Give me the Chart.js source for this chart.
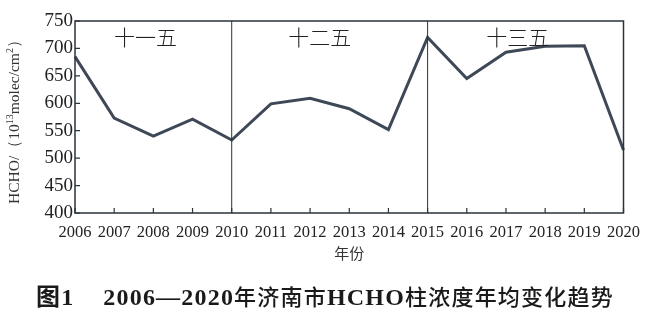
<!DOCTYPE html>
<html>
<head>
<meta charset="utf-8">
<script src="https://cdn.jsdelivr.net/npm/chart.js@4.4.1/dist/chart.umd.min.js"></script>
<style>
  html, body { margin: 0; padding: 0; background: #fff; }
  #wrap { position: relative; width: 650px; height: 310px; }
  #caption {
    position: absolute; left: 0; top: 277px; width: 650px; text-align: center;
    font-family: "Liberation Serif", "Noto Sans CJK SC", serif; font-weight: bold;
    font-size: 24px; letter-spacing: 1.2px; color: #1a1a1a; white-space: nowrap;
  }
  #caption .cn { font-family: "Noto Sans CJK SC", sans-serif; font-weight: 500; font-size: 22px; }
</style>
</head>
<body>
<div id="wrap">
  <canvas id="grafico" width="650" height="310"></canvas>
  <div id="caption">图1&nbsp;&nbsp;&nbsp;&nbsp;2006—2020<span class="cn">年济南市</span>HCHO<span class="cn">柱浓度年均变化趋势</span></div>
</div>
<script>
const anios = ['2006', '2007', '2008', '2009', '2010', '2011', '2012', '2013', '2014', '2015', '2016', '2017', '2018', '2019', '2020'];
const valoresHCHO = [685, 573, 540, 571, 533, 599, 609, 590, 552, 720, 645, 693, 704, 705, 515];
const periodos = ['十一五', '十二五', '十三五'];
const divisiones = ['2010', '2015'];
const ticksY = [400, 450, 500, 550, 600, 650, 700, 750];

const colorLinea = '#3e4856';
const colorEje = '#2a323c';

// marcas interiores, separadores y textos extra
const decoracion = {
    id: 'decoracion',
    afterDraw(chart) {
        const { ctx, chartArea: a, scales: { x, y } } = chart;
        ctx.save();
        ctx.strokeStyle = colorEje;
        ctx.lineWidth = 1.5;
        ctx.strokeRect(a.left, a.top, a.right - a.left, a.bottom - a.top);

        ctx.lineWidth = 1.2;
        ctx.beginPath();
        anios.forEach((_, i) => {
            const px = x.getPixelForValue(i);
            ctx.moveTo(px, a.bottom);
            ctx.lineTo(px, a.bottom - 5);
        });
        ticksY.forEach(v => {
            const py = y.getPixelForValue(v);
            ctx.moveTo(a.left, py);
            ctx.lineTo(a.left + 5, py);
        });
        ctx.stroke();

        ctx.lineWidth = 1;
        ctx.beginPath();
        divisiones.forEach(d => {
            const px = x.getPixelForValue(anios.indexOf(d));
            ctx.moveTo(px, a.top);
            ctx.lineTo(px, a.bottom);
        });
        ctx.stroke();

        // nombres de los planes quinquenales
        const x0 = x.getPixelForValue(0);
        const x1 = x.getPixelForValue(anios.length - 1);
        const centros = [1.8, 6.25, 11.3];
        ctx.fillStyle = '#222';
        ctx.font = '300 21px "Noto Sans CJK SC"';
        ctx.textAlign = 'center';
        ctx.textBaseline = 'middle';
        periodos.forEach((p, i) => {
            ctx.fillText(p, x0 + (x1 - x0) * centros[i] / (anios.length - 1), a.top + 16);
        });

        // titulo del eje x
        ctx.font = '15px "Noto Sans CJK SC"';
        ctx.fillStyle = '#333';
        ctx.fillText('年份', (a.left + a.right) / 2, 253);

        // titulo del eje y con superindices
        ctx.translate(15, 118);
        ctx.rotate(-Math.PI / 2);
        const partes = [
            ['HCHO/（10', 15.5, 0], ['13', 10, -5], ['molec/cm', 15.5, 0], ['2', 10, -5], ['）', 15.5, 0]
        ];
        let ancho = 0;
        partes.forEach(([t, s]) => {
            ctx.font = s + 'px "Liberation Serif"';
            ancho += ctx.measureText(t).width;
        });
        let cx = -ancho / 2;
        ctx.textAlign = 'left';
        partes.forEach(([t, s, dy]) => {
            ctx.font = s + 'px "Liberation Serif"';
            ctx.fillText(t, cx, dy);
            cx += ctx.measureText(t).width;
        });
        ctx.restore();
    }
};

new Chart(document.getElementById('grafico'), {
    type: 'line',
    data: {
        labels: anios,
        datasets: [{
            data: valoresHCHO,
            borderColor: colorLinea,
            borderWidth: 3,
            pointRadius: 0,
            tension: 0,
            fill: false
        }]
    },
    options: {
        responsive: false,
        animation: false,
        events: [],
        layout: { padding: { top: 21, right: 25, left: 0, bottom: 0 } },
        plugins: { legend: { display: false }, tooltip: { enabled: false } },
        scales: {
            x: {
                grid: { display: false, drawTicks: false },
                border: { display: false },
                ticks: {
                    color: '#222', padding: 10, maxRotation: 0, autoSkip: false,
                    font: { family: 'Liberation Serif', size: 16.5 }
                },
                afterFit: s => { s.height = 97; }
            },
            y: {
                min: 400, max: 750,
                grid: { display: false, drawTicks: false },
                border: { display: false },
                ticks: {
                    stepSize: 50, color: '#222', padding: 2,
                    font: { family: 'Liberation Serif', size: 19 }
                },
                afterFit: s => { s.width = 75; }
            }
        }
    },
    plugins: [decoracion]
});
</script>
</body>
</html>
